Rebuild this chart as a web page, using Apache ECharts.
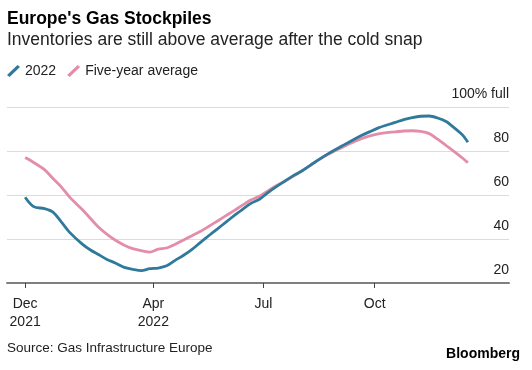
<!DOCTYPE html>
<html>
<head>
<meta charset="utf-8">
<script src="https://cdn.jsdelivr.net/npm/echarts@6/dist/echarts.min.js"></script>
<style>
html,body{margin:0;padding:0;background:#fff;}
#c{width:532px;height:370px;}
</style>
</head>
<body>
<div id="c"></div>
<script>
var dates = ['2021-12-16','2021-12-23','2022-01-01','2022-01-08','2022-01-15','2022-01-22','2022-02-01','2022-02-08','2022-02-15','2022-02-22','2022-03-01','2022-03-08','2022-03-15','2022-03-22','2022-03-29','2022-04-05','2022-04-12','2022-04-19','2022-04-26','2022-05-03','2022-05-10','2022-05-17','2022-05-24','2022-05-31','2022-06-07','2022-06-14','2022-06-21','2022-06-28','2022-07-05','2022-07-12','2022-07-19','2022-07-26','2022-08-02','2022-08-09','2022-08-16','2022-08-23','2022-08-30','2022-09-06','2022-09-13','2022-09-20','2022-09-27','2022-10-04','2022-10-11','2022-10-18','2022-10-25','2022-11-01','2022-11-08','2022-11-15','2022-11-22','2022-11-29','2022-12-06','2022-12-13','2022-12-17'];
var values2022 = [59.0,54.7,53.8,52.2,47.7,42.9,37.8,35.0,32.8,30.6,29.0,27.1,26.2,25.6,26.5,26.8,27.8,30.3,32.6,35.3,38.5,41.6,44.6,47.7,50.7,53.6,56.3,58.2,61.2,63.9,66.4,68.9,71.0,73.6,76.2,78.6,80.8,82.9,85.0,87.0,88.8,90.5,91.8,93.0,94.3,95.2,95.8,95.9,95.0,93.4,90.4,87.0,84.0];
var valuesAvg = [77.0,74.8,71.5,67.5,63.6,58.9,53.5,49.3,45.2,42.0,39.3,37.2,35.6,34.7,34.0,35.4,35.9,37.6,39.5,41.5,43.5,45.8,48.2,50.6,53.0,55.5,57.8,59.6,62.0,64.3,66.4,68.6,71.0,73.6,76.1,78.4,80.3,82.2,84.0,85.6,86.9,87.8,88.4,88.7,89.1,89.2,88.9,87.9,85.4,82.5,79.6,76.6,74.7];
var tickDates = ['2021-12-16','2022-04-01','2022-07-01','2022-10-01'];
var tickLabels = ['Dec\n2021','Apr\n2022','Jul','Oct'];
var yTicks = [20,40,60,80,100];

var FONT = '"Liberation Sans", Arial, sans-serif';
function ts(s){ var p=s.split('-'); return Date.UTC(+p[0], +p[1]-1, +p[2]); }
var tickTs = tickDates.map(ts);
function pairs(vals){ return dates.map(function(d,i){ return [ts(d), vals[i]]; }); }

var chart = echarts.init(document.getElementById('c'), null, {renderer:'canvas'});
var slash = 'path://M0,10 L10.5,0 L13,2 L2.5,12 Z';
chart.setOption({
  animation:false,
  backgroundColor:'#fff',
  textStyle:{fontFamily:FONT},
  title:[
    {text:"Europe's Gas Stockpiles", left:7, top:10, padding:0, textStyle:{fontFamily:FONT, fontSize:17.5, fontWeight:'bold', color:'#000'}},
    {text:'Inventories are still above average after the cold snap', left:7, top:31, padding:0, textStyle:{fontFamily:FONT, fontSize:17.5, fontWeight:'normal', color:'#222'}},
    {text:'Source: Gas Infrastructure Europe', left:7, top:341, padding:0, textStyle:{fontFamily:FONT, fontSize:13.5, fontWeight:'normal', color:'#222'}},
    {text:'Bloomberg', right:12, top:347, padding:0, textStyle:{fontFamily:FONT, fontSize:14, fontWeight:'bold', color:'#000'}}
  ],
  legend:{
    left:7, top:64, padding:0, itemWidth:13, itemHeight:12, itemGap:11,
    textStyle:{fontFamily:FONT, fontSize:14, color:'#222'},
    data:[{name:'2022', icon:slash},{name:'Five-year average', icon:slash}]
  },
  grid:{left:7, right:23, top:107, bottom:87},
  xAxis:{
    type:'value',
    min:ts('2021-12-01'), max:ts('2023-01-20'),
    axisLine:{show:true, lineStyle:{color:'#7f7f7f', width:2}},
    axisTick:{show:true, customValues:tickTs, length:5, lineStyle:{color:'#444', width:1}},
    axisLabel:{customValues:tickTs, color:'#222', fontSize:14, fontFamily:FONT, lineHeight:18, margin:12,
      formatter:function(v){ var i=tickTs.indexOf(v); return i>=0?tickLabels[i]:''; }},
    splitLine:{show:false}
  },
  yAxis:{
    type:'value', position:'right', min:20, max:100, interval:20,
    axisLine:{show:false}, axisTick:{show:false},
    splitLine:{show:true, lineStyle:{color:'#dcdcdc', width:1}},
    axisLabel:{inside:true, margin:0, align:'right', verticalAlign:'bottom', padding:[0,0,6,0],
      color:'#222', fontSize:14, fontFamily:FONT,
      formatter:function(v){ return v===100?'100% full':String(v); }}
  },
  series:[
    {name:'2022', type:'line', data:pairs(values2022), showSymbol:false, symbol:'none', smooth:0.3,
      lineStyle:{color:'#2f7a9a', width:2.8}, itemStyle:{color:'#2f7a9a'}, z:3},
    {name:'Five-year average', type:'line', data:pairs(valuesAvg), showSymbol:false, symbol:'none', smooth:0.3,
      lineStyle:{color:'#e38daa', width:2.8}, itemStyle:{color:'#e38daa'}, z:2}
  ]
});
</script>
</body>
</html>
